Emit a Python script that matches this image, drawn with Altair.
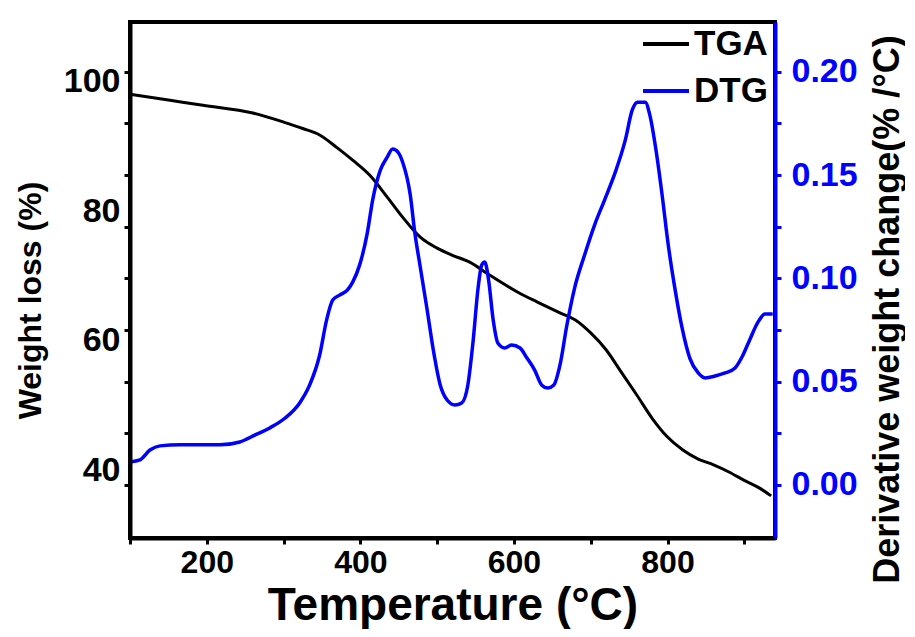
import altair as alt
import pandas as pd

# ---- data ----
tga_temp = [100, 150, 195, 260, 300, 325, 347, 370, 390, 412, 435, 455, 478, 500,
            520, 543, 565, 608, 630, 660, 680, 700, 720, 740, 760, 780, 800, 820,
            840, 860, 880, 900, 920, 935]
tga_weight = [98.1, 97.2, 96.4, 95.2, 93.8, 92.8, 91.8, 89.8, 87.9, 85.6, 82.2, 79.1,
              76.0, 74.3, 73.2, 72.1, 70.4, 67.3, 66.0, 64.3, 63.2, 61.2, 58.6, 55.1,
              51.6, 48.0, 45.1, 43.1, 41.7, 40.8, 39.7, 38.4, 37.2, 36.0]

dtg_temp = [100, 113, 126, 139, 165, 191, 217, 243, 263, 282, 302, 321, 334, 347, 356,
            364, 373, 383, 390, 399, 409, 416, 426, 435, 442, 449, 455, 465, 471, 478,
            487, 495, 504, 513, 523, 532, 540, 547, 553, 558, 562, 567, 573, 579, 588,
            597, 608, 617, 627, 636, 644, 652, 660, 669, 679, 692, 705, 718, 732, 745,
            754, 761, 771, 777, 785, 793, 801, 810, 819, 829, 840, 849, 862, 875, 888,
            897, 907, 918, 927, 937]
dtg_rate = [0.0111, 0.0121, 0.0169, 0.0189, 0.0194, 0.0194, 0.0194, 0.0208, 0.0242,
            0.0276, 0.0324, 0.0397, 0.0484, 0.0629, 0.0798, 0.0895, 0.0919, 0.0943,
            0.0982, 0.1064, 0.1219, 0.1379, 0.1524, 0.1587, 0.1626, 0.1611, 0.1563,
            0.1403, 0.1219, 0.1055, 0.0847, 0.0653, 0.0484, 0.0411, 0.0387, 0.0397,
            0.0484, 0.0702, 0.0943, 0.1064, 0.1079, 0.0992, 0.0798, 0.0687, 0.0663,
            0.0677, 0.0663, 0.0614, 0.0556, 0.0484, 0.0469, 0.0484, 0.0581, 0.0774,
            0.0953, 0.1113, 0.1258, 0.1379, 0.1514, 0.1669, 0.1814, 0.1853, 0.1853,
            0.1790, 0.1621, 0.1403, 0.1161, 0.0943, 0.0760, 0.0614, 0.0542, 0.0518,
            0.0527, 0.0542, 0.0566, 0.0619, 0.0702, 0.0789, 0.0827, 0.0827]

series = ["TGA", "DTG"]
series_colors = ["#000000", "#0000ff"]

x_ticks = [100, 200, 300, 400, 500, 600, 700, 800, 900]
left_labels = [40, 60, 80, 100]
left_ticks = [37.71, 45.69, 53.67, 61.66, 69.64, 77.62, 85.60, 93.59, 101.57]
right_ticks = [0.0, 0.025, 0.05, 0.075, 0.1, 0.125, 0.15, 0.175, 0.2]

FONT = "Liberation Sans"

tga_df = pd.DataFrame({"temp": tga_temp, "value": tga_weight, "series": "TGA"})
dtg_df = pd.DataFrame({"temp": dtg_temp, "value": dtg_rate, "series": "DTG"})

x_enc = alt.X(
    "temp:Q",
    scale=alt.Scale(domain=[100, 940], nice=False, zero=False),
    axis=alt.Axis(
        title="Temperature (°C)",
        values=x_ticks,
        format="d",
        labelExpr="datum.value % 200 == 0 ? datum.label : ''",
        labelFont=FONT, labelFontWeight="bold", labelFontSize=32, labelColor="black",
        labelPadding=3, labelOverlap=False, labelFlush=False,
        tickColor="black", tickWidth=3, tickSize=6,
        domainColor="black", domainWidth=4,
        titleFont=FONT, titleFontWeight="bold", titleFontSize=46, titleColor="black",
        titleBaseline="alphabetic", titleY=81,
        grid=False, zindex=1,
    ),
)

color_enc = alt.Color(
    "series:N",
    scale=alt.Scale(domain=series, range=series_colors),
    legend=alt.Legend(
        title=None, orient="none", legendX=511, legendY=-3,
        symbolType="stroke", symbolSize=2116, symbolStrokeWidth=4,
        labelFont=FONT, labelFontWeight="bold", labelFontSize=35, labelColor="black",
        labelOffset=3, rowPadding=4, padding=0, symbolOffset=0,
    ),
)

tga = alt.Chart(tga_df).mark_line(strokeWidth=3, interpolate="monotone").encode(
    x=x_enc,
    y=alt.Y(
        "value:Q",
        scale=alt.Scale(domain=[29.49, 109.27], nice=False, zero=False),
        axis=alt.Axis(
            title="Weight loss (%)",
            orient="left",
            values=left_labels + left_ticks,
            labelExpr="indexof([40, 60, 80, 100], datum.value) >= 0 ? datum.label : ''",
            format="d",
            labelFont=FONT, labelFontWeight="bold", labelFontSize=34, labelColor="black",
            labelPadding=4, labelOverlap=False, labelFlush=False, labelBaseline="middle",
            tickColor="black", tickWidth=3, tickSize=6,
            tickOpacity={"condition": {"test": "indexof([40, 60, 80, 100], datum.value) >= 0",
                                       "value": 0}, "value": 1},
            domainColor="black", domainWidth=4,
            titleFont=FONT, titleFontWeight="bold", titleFontSize=32, titleColor="black",
            titleAngle=270, titleBaseline="middle", titleAlign="center",
            titleX=-100, titleY=278,
            grid=False, zindex=1,
        ),
    ),
    color=color_enc,
)

dtg = alt.Chart(dtg_df).mark_line(strokeWidth=3.5, interpolate="monotone").encode(
    x=x_enc,
    y=alt.Y(
        "value:Q",
        scale=alt.Scale(domain=[-0.0257, 0.2241], nice=False, zero=False),
        axis=alt.Axis(
            title="Derivative weight change(% /°C)",
            orient="right",
            values=right_ticks,
            labelExpr="round(datum.value * 1000) % 50 == 0 ? format(datum.value, '.2f') : ''",
            labelFont=FONT, labelFontWeight="bold", labelFontSize=34, labelColor="#0000ff",
            labelPadding=10, labelOverlap=False, labelFlush=False, labelBaseline="middle",
            tickColor="#0000ff", tickWidth=3, tickSize=6,
            domainColor="#0000ff", domainWidth=4,
            titleFont=FONT, titleFontWeight="bold", titleFontSize=36, titleColor="black",
            titleAngle=270, titleBaseline="middle", titleAlign="center",
            titleX=112, titleY=287,
            grid=False, zindex=2,
        ),
    ),
    color=color_enc,
)

chart = (
    alt.layer(tga, dtg)
    .resolve_scale(y="independent")
    .properties(
        width=645, height=516,
        autosize=alt.AutoSizeParams(type="none"),
        padding={"left": 122, "top": 14, "right": 130, "bottom": 91},
        background="white",
    )
    .configure_view(stroke="black", strokeWidth=4)
)

chart.save("out.html", embed_options={"renderer": "svg", "actions": False})
